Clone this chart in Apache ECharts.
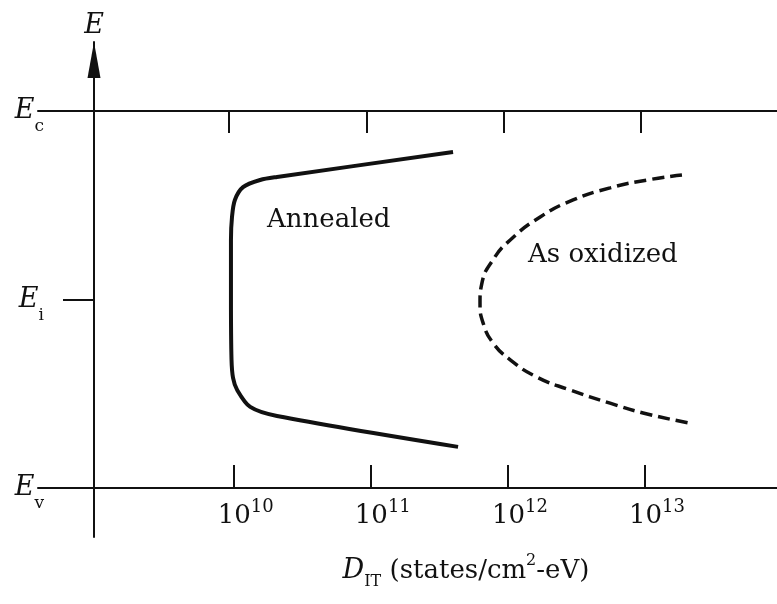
<!DOCTYPE html>
<html lang="en">
<head>
<meta charset="UTF-8">
<title>Interface trap density</title>
<script src="https://cdn.jsdelivr.net/npm/echarts@6/dist/echarts.min.js"></script>
<style>
    html, body { margin: 0; padding: 0; background: #fff; }
    #main { width: 777px; height: 604px; }
</style>
</head>
<body>
<div id="main"></div>
<script type="text/javascript">
    // D_IT in states/cm^2-eV, E as a fraction of the gap (Ev = 0, Ec = 1)
    var annealedD = [3.98e11, 2.07e10, 1.56e10, 1.17e10, 1.02e10, 9.72e9, 9.55e9, 9.55e9, 9.64e9, 9.89e9, 1.06e10, 1.32e10, 2.07e10, 4.33e11];
    var annealedE = [0.891, 0.825, 0.817, 0.798, 0.764, 0.719, 0.658, 0.499, 0.340, 0.292, 0.260, 0.215, 0.191, 0.109];

    var oxidizedD = [1.86e13, 1.04e13, 5.56e12, 2.99e12, 1.72e12, 1.04e12, 7.78e11, 6.47e11, 6.26e11, 6.59e11, 7.78e11, 1.04e12, 1.63e12, 2.84e12, 5.56e12, 9.68e12, 2.13e13];
    var oxidizedE = [0.830, 0.817, 0.796, 0.764, 0.719, 0.658, 0.605, 0.544, 0.491, 0.438, 0.385, 0.340, 0.294, 0.260, 0.225, 0.199, 0.172];

    var xTicks = [1e10, 1e11, 1e12, 1e13];
    var yTicks = [0, 0.5, 1];
    var ySubs = ['v', 'i', 'c'];

    var chart = echarts.init(document.getElementById('main'));
    var serif = '"DejaVu Serif", "Liberation Serif", serif';
    var ink = '#111';
    var axisStroke = { color: ink, width: 2 };

    function pairs(xs, ys) {
        return xs.map(function (x, i) { return [x, ys[i]]; });
    }

    var option = {
        backgroundColor: '#fff',
        animation: false,
        grid: { left: 38, right: 0, top: 42, bottom: 67, outerBoundsMode: 'none' },
        xAxis: [{
            // Ev line, moved up from the grid edge to E = 0
            type: 'log',
            logBase: 10,
            position: 'bottom',
            offset: -49,
            min: Math.pow(10, 8.5726),
            max: Math.pow(10, 13.9628),
            axisLine: { onZero: false, lineStyle: axisStroke },
            axisTick: { inside: true, length: 23, customValues: xTicks, lineStyle: axisStroke },
            minorTick: { show: false },
            splitLine: { show: false },
            axisLabel: {
                customValues: xTicks,
                margin: 10,
                formatter: function (v) {
                    return '{b|10}{s|' + Math.round(Math.log10(v)) + '}';
                },
                rich: {
                    b: { fontFamily: serif, fontSize: 26, color: ink, padding: [0, 0, 0, 24], verticalAlign: 'middle' },
                    s: { fontFamily: serif, fontSize: 18, color: ink, padding: [0, 0, 18, 0], verticalAlign: 'middle' }
                }
            },
            name: '{d|D}{it|IT}{t| (states/cm}{p|2}{t|-eV)}',
            nameLocation: 'middle',
            nameGap: 64,
            nameTextStyle: {
                padding: [0, 0, 0, 117],
                rich: {
                    d: { fontFamily: serif, fontStyle: 'italic', fontSize: 27, color: ink, verticalAlign: 'middle' },
                    it: { fontFamily: serif, fontSize: 16, color: ink, padding: [22, 0, 0, 0], verticalAlign: 'middle' },
                    t: { fontFamily: serif, fontSize: 26, color: ink, verticalAlign: 'middle' },
                    p: { fontFamily: serif, fontSize: 16, color: ink, padding: [0, 0, 20, 0], verticalAlign: 'middle' }
                }
            }
        }, {
            // Ec line, drawn as a second axis with downward ticks
            type: 'log',
            logBase: 10,
            position: 'top',
            offset: -69,
            min: Math.pow(10, 8.6074),
            max: Math.pow(10, 13.9898),
            axisLine: { onZero: false, lineStyle: axisStroke },
            axisTick: { inside: true, length: 22, customValues: xTicks, lineStyle: axisStroke },
            minorTick: { show: false },
            splitLine: { show: false },
            axisLabel: { show: false }
        }],
        yAxis: {
            type: 'value',
            min: -0.13,
            max: 1.183,
            offset: -56,
            axisLine: {
                show: true,
                onZero: false,
                symbol: ['none', 'triangle'],
                symbolSize: [13, 36],
                symbolOffset: [0, -18],
                lineStyle: axisStroke
            },
            axisTick: { show: true, inside: false, length: 31, customValues: [yTicks[1]], lineStyle: axisStroke },
            splitLine: { show: false },
            axisLabel: {
                customValues: yTicks,
                margin: 50,
                formatter: function (v) {
                    return '{e|E}{s|' + ySubs[yTicks.indexOf(v)] + '}';
                },
                rich: {
                    e: { fontFamily: serif, fontStyle: 'italic', fontSize: 27, color: ink, verticalAlign: 'middle' },
                    s: { fontFamily: serif, fontSize: 17, color: ink, padding: [32, 0, 0, 0], verticalAlign: 'middle' }
                }
            },
            name: 'E',
            nameLocation: 'end',
            nameGap: 3,
            nameTextStyle: { fontFamily: serif, fontStyle: 'italic', fontSize: 27, color: ink }
        },
        graphic: [{
            type: 'text',
            x: 267,
            y: 220,
            style: {
                text: 'Annealed', font: '26px "DejaVu Serif"', fill: ink,
                textAlign: 'left', textVerticalAlign: 'middle', align: 'left', verticalAlign: 'middle'
            }
        }, {
            type: 'text',
            x: 528,
            y: 255,
            style: {
                text: 'As oxidized', font: '26px "DejaVu Serif"', fill: ink,
                textAlign: 'left', textVerticalAlign: 'middle', align: 'left', verticalAlign: 'middle'
            }
        }],
        series: [{
            name: 'Annealed',
            type: 'line',
            xAxisIndex: 0,
            showSymbol: false,
            smooth: 0.3,
            lineStyle: { color: ink, width: 4 },
            data: pairs(annealedD, annealedE)
        }, {
            name: 'As oxidized',
            type: 'line',
            xAxisIndex: 0,
            showSymbol: false,
            smooth: 0.5,
            lineStyle: { color: ink, width: 3.5, type: [12, 6] },
            data: pairs(oxidizedD, oxidizedE)
        }]
    };

    chart.setOption(option);
</script>
</body>
</html>
